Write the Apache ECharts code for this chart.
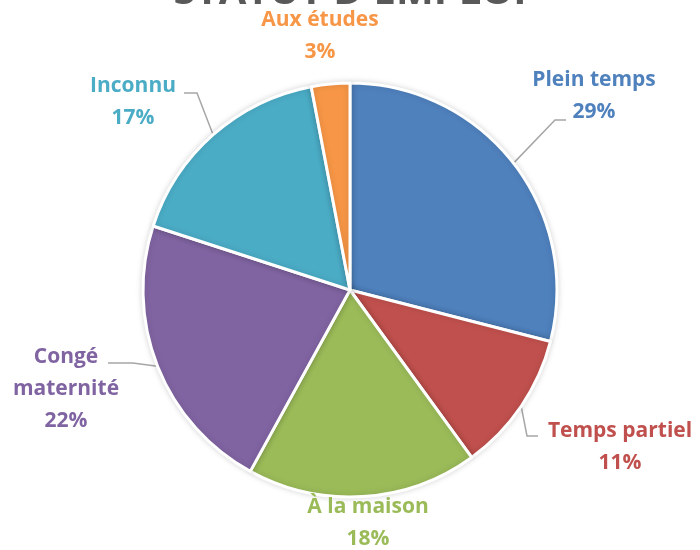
<!DOCTYPE html>
<html>
<head>
<meta charset="utf-8">
<script src="https://cdn.jsdelivr.net/npm/echarts@6/dist/echarts.min.js"></script>
<style>
  html, body { margin: 0; padding: 0; background: #fff; }
  #chart { width: 700px; height: 550px; }
</style>
</head>
<body>
<div id="chart"></div>
<script>
var categories = ['Plein temps', 'Temps partiel', 'À la maison', 'Congé\nmaternité', 'Inconnu', 'Aux études'];
var values = [29, 11, 18, 22, 17, 3];
var colors = ['#4F81BD', '#C0504D', '#9BBB59', '#8064A2', '#4BACC6', '#F79646'];

// where each label sits, and the bend / end of its leader line
var labelSpots = [
    { x: 594, y: 96, bend: [555, 120], end: [566, 120] },
    { x: 620, y: 447, bend: [527, 436], end: [538, 436] },
    { x: 368, y: 523 },
    { x: 66, y: 389, end: [108, 363] },
    { x: 133, y: 102, bend: [197, 93], end: [184, 93] },
    { x: 320, y: 36 }
];

var chart = echarts.init(document.getElementById('chart'));

var data = categories.map(function (name, i) {
    return {
        name: name,
        value: values[i],
        itemStyle: { color: colors[i] },
        label: { color: colors[i] },
        labelLine: { show: !!labelSpots[i].end }
    };
});

var option = {
    title: {
        text: "STATUT D'EMPLOI",
        left: 'center',
        top: -32,
        textStyle: { fontFamily: 'Open Sans', fontWeight: 'bold', fontSize: 40, color: '#595959' }
    },
    series: [{
        type: 'pie',
        center: [350, 290],
        radius: 207,
        startAngle: 90,
        clockwise: true,
        data: data,
        itemStyle: {
            borderColor: '#fff',
            borderWidth: 3,
            shadowBlur: 6,
            shadowColor: 'rgba(0,0,0,0.15)'
        },
        label: {
            show: true,
            position: 'outside',
            formatter: function (p) { return p.name + '\n' + Math.round(p.percent) + '%'; },
            fontFamily: 'Open Sans',
            fontWeight: 'bold',
            fontSize: 21,
            lineHeight: 32,
            align: 'center',
            overflow: 'none'
        },
        labelLine: {
            lineStyle: { color: '#A6A6A6', width: 1.5 }
        },
        labelLayout: function (params) {
            var s = labelSpots[params.dataIndex];
            var out = { x: s.x, y: s.y, align: 'center', verticalAlign: 'middle' };
            if (s.end && params.labelLinePoints) {
                var start = params.labelLinePoints[0];
                out.labelLinePoints = s.bend ? [start, s.bend, s.end] : [start, [(start[0] + s.end[0]) / 2, s.end[1]], s.end];
            }
            return out;
        },
        emphasis: { disabled: true },
        animation: false
    }]
};
chart.setOption(option);
</script>
</body>
</html>
